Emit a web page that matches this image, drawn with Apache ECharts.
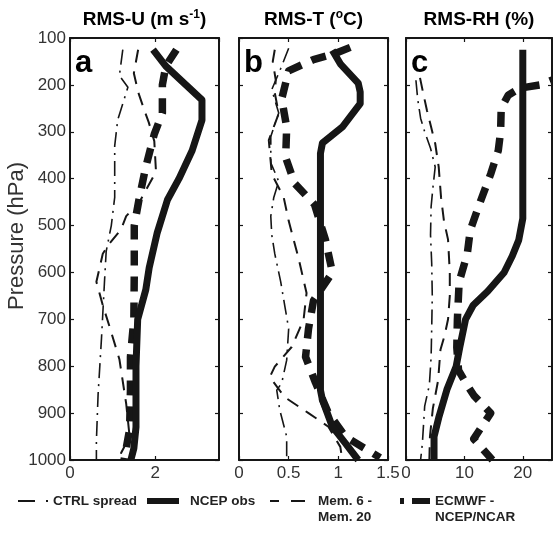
<!DOCTYPE html>
<html>
<head>
<meta charset="utf-8">
<script src="https://cdn.jsdelivr.net/npm/echarts@6/dist/echarts.min.js"></script>
<style>html,body{margin:0;padding:0;background:#fff;}#c{width:553px;height:534px;}</style>
</head>
<body>
<div id="c"></div>
<script>
// ---- data: [value, pressure (hPa)] ----
const uCtrl = [[1.24,125],[1.16,180],[1.36,205],[1.12,275],[1.05,330],[1.05,440],[0.97,500],[0.85,555],[0.81,620],[0.74,740],[0.66,860],[0.62,960],[0.62,1000]];
const uNcep = [[1.95,125],[2.25,160],[3.1,232],[3.1,275],[2.87,340],[2.56,400],[2.29,445],[2.05,515],[1.86,590],[1.78,637],[1.59,700],[1.55,800],[1.55,930],[1.5,975],[1.43,1000]];
const uMem  = [[1.6,125],[1.5,175],[1.6,215],[1.75,255],[1.85,280],[1.98,320],[2.02,385],[1.63,450],[1.32,480],[1.2,508],[0.93,538],[0.77,560],[0.62,620],[0.77,670],[0.93,716],[1.16,785],[1.32,880],[1.4,950],[1.2,985],[1.16,1000]];
const uEcm  = [[2.5,125],[2.25,160],[2.17,200],[2.17,260],[1.98,305],[1.78,375],[1.63,440],[1.51,500],[1.51,600],[1.5,700],[1.42,780],[1.42,850],[1.4,935],[1.27,1000]];

const tCtrl = [[0.5,122],[0.42,165],[0.33,210],[0.4,260],[0.32,310],[0.32,366],[0.4,406],[0.35,440],[0.32,480],[0.33,520],[0.36,560],[0.42,620],[0.46,670],[0.5,720],[0.48,787],[0.43,836],[0.38,851],[0.41,893],[0.48,950],[0.48,1000]];
const tNcep = [[0.94,126],[1.02,155],[1.2,196],[1.22,215],[1.22,240],[1.04,290],[0.84,324],[0.82,346],[0.82,851],[0.84,872],[0.94,929],[1.07,964],[1.2,1000]];
const tMem  = [[0.36,125],[0.34,150],[0.37,190],[0.36,217],[0.4,261],[0.3,318],[0.33,390],[0.45,440],[0.5,490],[0.6,570],[0.68,644],[0.65,701],[0.53,759],[0.36,801],[0.31,823],[0.46,866],[0.7,900],[0.9,929],[1.02,972],[1.04,1000]];
const tEcm  = [[1.12,120],[0.98,132],[0.75,146],[0.5,170],[0.43,230],[0.48,290],[0.47,355],[0.56,410],[0.76,455],[0.87,530],[0.94,600],[0.75,660],[0.7,720],[0.67,780],[0.77,835],[0.9,900],[1.07,950],[1.42,995]];

const rhCtrl = [[1.7,190],[2.0,230],[2.5,271],[3.2,300],[4.2,335],[5.0,375],[4.6,420],[4.3,460],[4.2,520],[4.4,580],[4.5,650],[4.4,720],[4.3,780],[4.0,840],[3.2,885],[3.0,925],[2.8,965],[2.5,1000]];
const rhNcep = [[20,125],[20,485],[19.3,531],[18.2,565],[16.8,600],[14,640],[11.5,670],[10.2,700],[9.2,760],[8.6,800],[7.0,850],[5.6,910],[4.8,950],[4.8,1000]];
const rhMem  = [[2.4,185],[2.9,215],[3.6,255],[4.3,290],[5.0,325],[5.6,375],[6.0,440],[6.5,490],[7.2,530],[7.5,600],[7.5,650],[7.2,700],[6.6,735],[5.9,765],[5.5,830],[4.6,890],[4.1,950],[4.0,1000]];
const rhEcm  = [[27,180],[23,200],[19.5,207],[17.5,222],[16.3,250],[16.2,300],[15.8,340],[14.5,390],[12.7,450],[11,510],[10.5,560],[9.1,620],[8.8,700],[8.7,760],[9.0,809],[10.5,841],[11.6,862],[14.5,900],[11.6,955],[14.8,1000]];

const names = ['CTRL spread', 'NCEP obs', 'Mem. 6 - Mem. 20', 'ECMWF - NCEP/NCAR'];
const legendLines = [['CTRL spread'], ['NCEP obs'], ['Mem. 6 -', 'Mem. 20'], ['ECMWF -', 'NCEP/NCAR']];
const panelTitles = ['{a|RMS-U (m s}{s|-1}{a|)}', '{a|RMS-T (}{s|o}{a|C)}', '{a|RMS-RH (%)}'];
const panelLetters = ['a', 'b', 'c'];
const xMax = [3.5, 1.5, 25];
const xInterval = [2, 0.5, 10];

const FONT = 'Liberation Sans, Arial, sans-serif';
const INK = '#161616';
const grids = [
  {left: 70, top: 38, width: 149, height: 422},
  {left: 239, top: 38, width: 149, height: 422},
  {left: 406, top: 38, width: 146, height: 422}
];

const styles = [
  {width: 1.6, type: [15, 6, 2, 6]},
  {width: 7, type: 'solid'},
  {width: 2, type: [13, 9]},
  {width: 7.5, type: [15, 11]}
];

const xAxes = [], yAxes = [];
grids.forEach((g, i) => {
  const lineSt = {show: true, onZero: false, lineStyle: {color: INK, width: 2}};
  const tick = {show: true, inside: true, length: 4, lineStyle: {color: INK, width: 1.2}};
  xAxes.push({gridIndex: i, type: 'value', position: 'bottom', min: 0, max: xMax[i], interval: xInterval[i],
    axisLine: lineSt, axisTick: tick, splitLine: {show: false},
    axisLabel: {show: true, showMaxLabel: i === 1, fontSize: 17, color: '#333', fontFamily: FONT, margin: 5,
      formatter: v => String(v)}});
  xAxes.push({gridIndex: i, type: 'value', position: 'top', min: 0, max: xMax[i], interval: xInterval[i],
    axisLine: lineSt, axisTick: tick, splitLine: {show: false}, axisLabel: {show: false}});
  yAxes.push({gridIndex: i, type: 'value', position: 'left', min: 100, max: 1000, interval: 100, inverse: true,
    axisLine: lineSt, axisTick: tick, splitLine: {show: false},
    axisLabel: {show: i === 0, fontSize: 17, color: '#333', fontFamily: FONT, margin: 4, formatter: v => String(v)}});
  yAxes.push({gridIndex: i, type: 'value', position: 'right', min: 100, max: 1000, interval: 100, inverse: true,
    axisLine: lineSt, axisTick: tick, splitLine: {show: false}, axisLabel: {show: false}});
});

const panelData = [[uCtrl, uNcep, uMem, uEcm], [tCtrl, tNcep, tMem, tEcm], [rhCtrl, rhNcep, rhMem, rhEcm]];
const series = [];
panelData.forEach((arr, i) => {
  arr.forEach((d, k) => {
    series.push({
      type: 'line', name: names[k], data: d, xAxisIndex: i * 2, yAxisIndex: i * 2,
      symbol: 'none', showSymbol: false, clip: true, smooth: false,
      lineStyle: {color: INK, width: styles[k].width, type: styles[k].type, cap: 'butt', join: 'round'},
      itemStyle: {color: INK}, z: k === 1 ? 3 : 2
    });
  });
});

const graphics = [];
grids.forEach((g, i) => {
  graphics.push({type: 'text', x: g.left + g.width / 2, y: 20, style: {
    text: panelTitles[i], align: 'center', verticalAlign: 'middle', fill: '#000',
    rich: {a: {fontSize: 19, fontWeight: 'bold', fontFamily: FONT, fill: '#000', lineHeight: 22},
           s: {fontSize: 12, fontWeight: 'bold', fontFamily: FONT, fill: '#000', verticalAlign: 'top', lineHeight: 13}}
  }});
  graphics.push({type: 'text', x: g.left + 5, y: 63, style: {
    text: panelLetters[i], align: 'left', verticalAlign: 'middle', fill: '#000',
    font: 'bold 31px ' + FONT
  }});
});
graphics.push({type: 'text', x: 17, y: 236, rotation: Math.PI / 2, style: {
  text: 'Pressure (hPa)', align: 'center', verticalAlign: 'middle', fill: '#333', font: '22px ' + FONT
}});

// legend (drawn as graphics so the two-line names align like the original)
const LY = 501;
const legendSamples = [
  [[18, 35, 2], [46, 48, 2]],
  [[147, 179, 6]],
  [[270, 279, 2], [291, 305, 2]],
  [[400, 404, 6], [412, 430, 6]]
];
const legendTextX = [53, 190, 318, 435];
legendSamples.forEach((segs, k) => {
  segs.forEach(s => graphics.push({type: 'line', shape: {x1: s[0], y1: LY, x2: s[1], y2: LY},
    style: {stroke: INK, lineWidth: s[2], lineCap: 'butt'}}));
  legendLines[k].forEach((t, j) => graphics.push({type: 'text', x: legendTextX[k], y: LY + j * 16, style: {
    text: t, align: 'left', verticalAlign: 'middle', fill: '#222', font: 'bold 13.5px ' + FONT}}));
});

const chart = echarts.init(document.getElementById('c'), null, {renderer: 'canvas'});
chart.setOption({
  animation: false,
  backgroundColor: '#fff',
  grid: grids,
  xAxis: xAxes,
  yAxis: yAxes,
  series: series,
  graphic: graphics
});
</script>
</body>
</html>
